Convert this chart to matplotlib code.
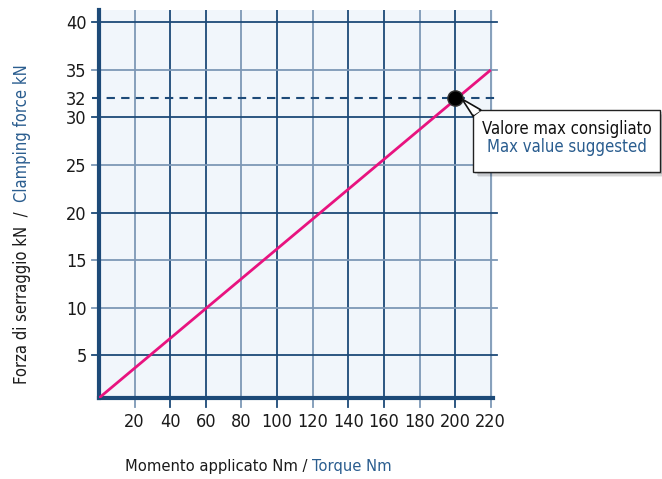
import matplotlib
matplotlib.use("Agg")
import matplotlib.pyplot as plt
from matplotlib.patches import Rectangle, Polygon

# ---- data ----
torque_nm = [0, 220]
clamping_kn = [0.5, 35.0]
max_torque = [200]
max_force = [32]
x_ticks = [20, 40, 60, 80, 100, 120, 140, 160, 180, 200, 220]
y_ticks = [5, 10, 15, 20, 25, 30, 32, 35, 40]
y_grid = [5, 10, 15, 20, 25, 30, 35, 40]
label_it_y = "Forza di serraggio kN  /  "
label_en_y = "Clamping force kN"
label_it_x = "Momento applicato Nm / "
label_en_x = "Torque Nm"
note_it = "Valore max consigliato"
note_en = "Max value suggested"

plt.rcParams['font.family'] = ['DejaVu Sans']
plt.rcParams['font.stretch'] = 'condensed'

NAVY = "#1d4a78"
LIGHT = "#7d98b6"
BLUE_TXT = "#2a5d8f"
PINK = "#e8137f"
TXT = "#1a1a1a"

W, H = 662, 479
fig = plt.figure(figsize=(W/100, H/100), dpi=100)

def fx(px): return px / W
def fy(py): return 1 - py / H

ax = fig.add_axes([fx(99), fy(398), (497-99)/W, (398-10)/H])
ax.set_xlim(0, 223.5)
ax.set_ylim(0.5, 41.3)
ax.set_facecolor("none")
ax.add_patch(Rectangle((0, 0.5), 221, 40.8, facecolor="#f1f6fb", edgecolor="none", zorder=0))

xcols = [LIGHT, NAVY, NAVY, LIGHT, NAVY, LIGHT, NAVY, NAVY, LIGHT, NAVY, LIGHT]
for xv, c in zip(x_ticks, xcols):
    ax.axvline(xv, color=c, lw=1.3, zorder=1)
ycols = [NAVY, LIGHT, LIGHT, NAVY, LIGHT, NAVY, LIGHT, NAVY]
for yv, c in zip(y_grid, ycols):
    ax.plot([-4, 223.5], [yv, yv], color=c, lw=1.3, zorder=1, clip_on=False)

ax.plot([-4, 223.5], [max_force[0]]*2, color=NAVY, lw=1.5, ls=(0, (4, 3)), zorder=2, clip_on=False)

ax.plot(torque_nm, clamping_kn, color=PINK, lw=2, zorder=3, solid_capstyle='butt')
ax.plot(max_torque, max_force, 'o', color="black", ms=11, mec="#333333", zorder=5)

for s in ["top", "right"]:
    ax.spines[s].set_visible(False)
ax.spines["left"].set_color(NAVY)
ax.spines["left"].set_linewidth(3)
ax.spines["bottom"].set_color(NAVY)
ax.spines["bottom"].set_linewidth(3)
ax.spines["bottom"].set_bounds(0, 221.5)

ax.set_xticks(x_ticks)
ax.set_xticklabels([str(v) for v in x_ticks])
ax.set_yticks(y_ticks)
ax.set_yticklabels([str(v) for v in y_ticks])
ax.tick_params(axis='x', length=0, pad=11, labelsize=13, labelcolor=TXT)
ax.tick_params(axis='y', length=0, pad=9, labelsize=13, labelcolor=TXT)
for xv, c in zip(x_ticks, xcols):
    ax.plot([xv, xv], [0.5, -0.4], color=c, lw=1.3, clip_on=False, zorder=1)

fig.canvas.draw()
r = fig.canvas.get_renderer()

# y label (two colours), chained bottom->top
t1 = fig.text(fx(22), fy(384), label_it_y, rotation=90, ha="center", va="bottom",
              fontsize=11.9, color=TXT)
bb = t1.get_window_extent(r)
fig.text(fx(22), bb.y1 / H, label_en_y, rotation=90, ha="center", va="bottom",
         fontsize=11.9, color=BLUE_TXT)
# x label chained left->right
t2 = fig.text(fx(125), fy(466), label_it_x, ha="left", va="center", fontsize=11.8, color=TXT)
bb = t2.get_window_extent(r)
fig.text(bb.x1 / W, fy(466), label_en_x, ha="left", va="center", fontsize=11.8, color=BLUE_TXT)

# callout box with shadow
bx0, by0, bx1, by1 = 473, 110, 660, 172
for i, a in enumerate([0.08, 0.10, 0.14]):
    off = 5 - i * 1.5
    fig.patches.append(Rectangle((fx(bx0 + off), fy(by1 + off)), (bx1 - bx0) / W, (by1 - by0) / H,
                                 transform=fig.transFigure, facecolor="black", alpha=a,
                                 edgecolor="none", zorder=8))
fig.patches.append(Rectangle((fx(bx0), fy(by1)), (bx1 - bx0) / W, (by1 - by0) / H,
                             transform=fig.transFigure, facecolor="white", edgecolor="#222222",
                             lw=1, zorder=9))
fig.patches.append(Polygon([(fx(462), fy(99)), (fx(473), fy(116)), (fx(481), fy(110))],
                           closed=True, transform=fig.transFigure, facecolor="white",
                           edgecolor="#111111", lw=1.2, zorder=10))
fig.patches.append(Polygon([(fx(474), fy(115)), (fx(480), fy(111)), (fx(474), fy(111))],
                           closed=True, transform=fig.transFigure, facecolor="white",
                           edgecolor="none", zorder=11))
fig.text(fx(567), fy(129), note_it, ha="center", va="center", fontsize=12, color="#111111", zorder=12)
fig.text(fx(567), fy(147), note_en, ha="center", va="center", fontsize=12, color=BLUE_TXT, zorder=12)

fig.savefig("out.png", dpi=100)
